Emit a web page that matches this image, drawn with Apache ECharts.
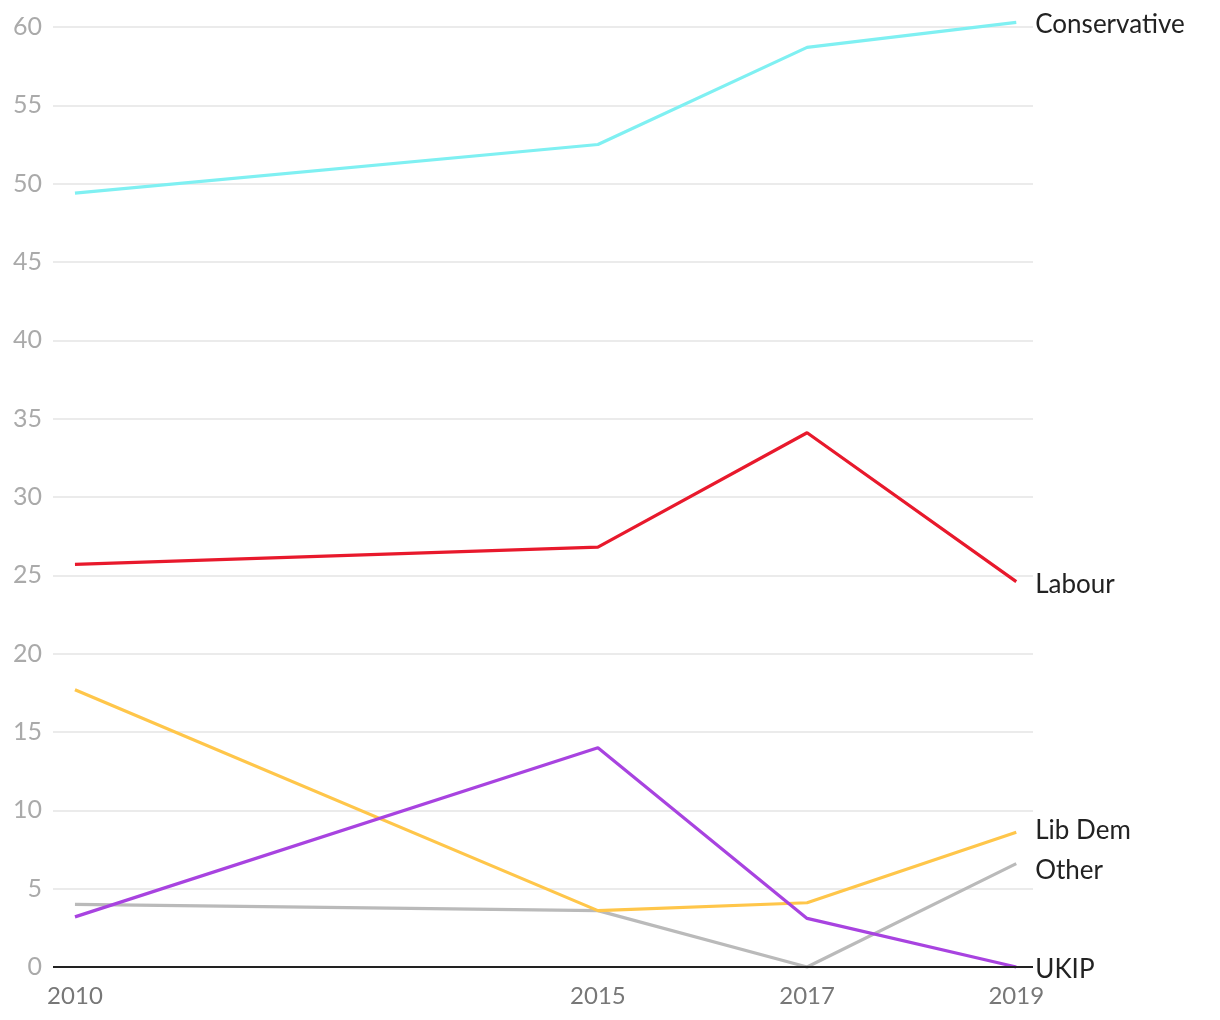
<!DOCTYPE html>
<html><head><meta charset="utf-8">
<script src="https://cdn.jsdelivr.net/npm/echarts@6/dist/echarts.min.js"></script>
<style>html,body{margin:0;padding:0;background:#fff}#c{width:1220px;height:1020px}</style>
</head><body><div id="c"></div>
<script>
const years = [2010, 2015, 2017, 2019];
const yTicks = [0, 5, 10, 15, 20, 25, 30, 35, 40, 45, 50, 55, 60];
const conservative = [49.4, 52.5, 58.7, 60.3];
const labour = [25.7, 26.8, 34.1, 24.6];
const libDem = [17.7, 3.6, 4.1, 8.6];
const ukip = [3.2, 14.0, 3.1, 0];
const other = [4.0, 3.6, 0, 6.6];

const FONT = 'Lato, "Open Sans", sans-serif';
function pts(arr){ return years.map((y,i)=>[y, arr[i]]); }
function mk(name, arr, color, offY){
  return {
    name, type:'line', data: pts(arr), symbol:'none', clip:false,
    lineStyle:{color, width:3.2}, itemStyle:{color},
    endLabel:{show:true, formatter: name, color:'#222', fontSize:26, fontFamily:FONT,
      offset:[19, offY||0], distance:0},
    emphasis:{disabled:true}, animation:false
  };
}
const chart = echarts.init(document.getElementById('c'));
chart.setOption({
  animation:false,
  grid:{left:53, right:187, top:27, bottom:53},
  xAxis:{type:'value', min:2009.79, max:2019.16,
    axisLine:{show:false}, axisTick:{show:false}, splitLine:{show:false},
    axisLabel:{customValues: years, color:'#777', fontSize:24, fontFamily:FONT, margin:17,
      formatter: v => String(Math.round(v))}
  },
  yAxis:{type:'value', min:0, max:60, interval:5,
    axisLine:{show:false}, axisTick:{show:false},
    splitLine:{lineStyle:{color:'#e4e4e4', width:1.5}},
    axisLabel:{color:'#aaa', fontSize:25, fontFamily:FONT, margin:11}
  },
  series:[
    mk('Other', other, '#bababa', 7),
    mk('Conservative', conservative, '#7ff0f2', 2),
    mk('Labour', labour, '#e8192c', 3),
    mk('Lib Dem', libDem, '#ffc64a', -2),
    mk('UKIP', ukip, '#a843e0', 3),
    {type:'line', data:[], markLine:{silent:true, symbol:'none', label:{show:false},
      lineStyle:{color:'#222', width:2, type:'solid'}, data:[{yAxis:0}]}}
  ]
});
</script></body></html>
